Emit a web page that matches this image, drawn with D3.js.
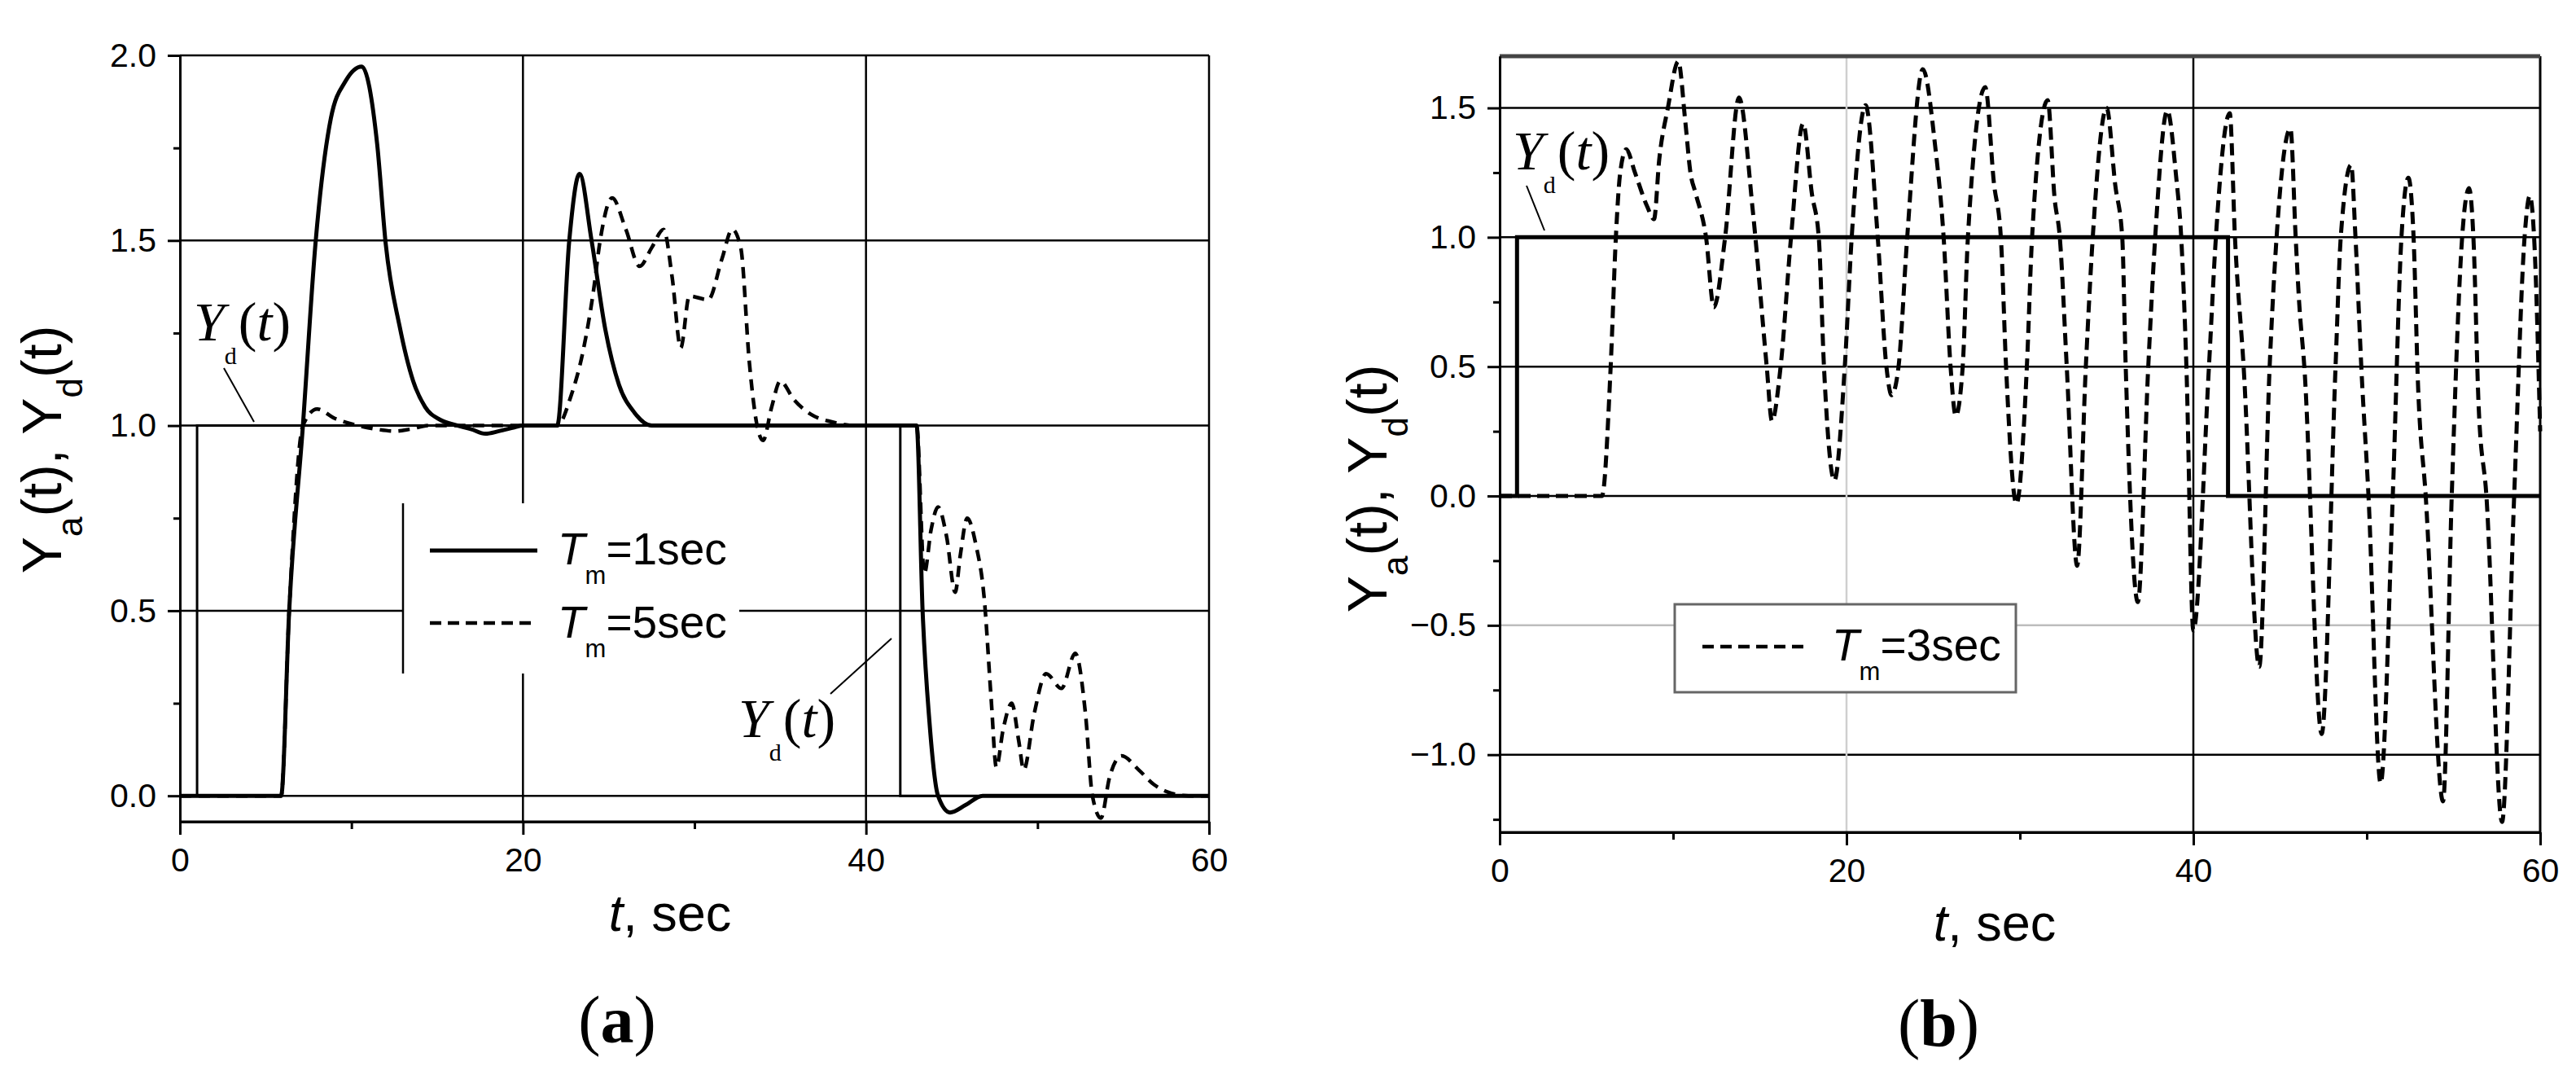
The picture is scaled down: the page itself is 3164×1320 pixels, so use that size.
<!DOCTYPE html>
<html>
<head>
<meta charset="utf-8">
<script src="https://cdn.jsdelivr.net/npm/d3@7"></script>
<style>
  body { margin: 0; background: #fff; }
  text { font-family: "Liberation Sans", Arial, sans-serif; fill: #000; }
  .serif { font-family: "Liberation Serif", "Times New Roman", serif; }
</style>
</head>
<body>
<div id="chart"></div>
<script>
// ---- data (t in sec) ----
const xTicks = [0, 20, 40, 60];
const xMinor = [10, 30, 50];
const yTicksA = [0, 0.5, 1.0, 1.5, 2.0];
const yMinorA = [0.25, 0.75, 1.25, 1.75];
const yTicksB = [-1.0, -0.5, 0.0, 0.5, 1.0, 1.5];
const yMinorB = [-1.25, -0.75, -0.25, 0.25, 0.75, 1.25];

// desired output (step), panel a
const ydA = [[0,0],[1,0],[1,1],[42,1],[42,0],[60,0]];
// actuator output, Tm = 1 sec
const yaTm1 = [[0,0],[5.9,0],[6.37,0.5],[7.17,1.0],[7.9,1.49],[8.8,1.83],[9.65,1.93],[10.6,1.97],
  [11.5,1.76],[12.0,1.49],[12.8,1.27],[13.6,1.12],[14.3,1.05],[15.2,1.015],[16.2,1.0],[17.0,0.99],
  [17.8,0.978],[18.6,0.985],[19.5,0.995],[20,1.0],[22.0,1.0],[22.7,1.5],[23.3,1.68],[24.0,1.5],
  [24.8,1.26],[25.6,1.11],[26.5,1.035],[27.5,1.0],[42.95,1.0],[43.3,0.5],[43.7,0.2],[44.2,0.0],
  [44.9,-0.045],[45.8,-0.025],[46.8,0.0],[60,0]];
// actuator output, Tm = 5 sec
const yaTm5 = [[0,0],[5.9,0],[6.37,0.5],[7.17,1.0],[8.0,1.045],[9.0,1.02],[10.4,1.0],[11.5,0.99],
  [12.5,0.985],[13.4,0.99],[14.5,1.0],[22.0,1.0],[22.8,1.08],[23.5,1.2],[24.1,1.36],[24.5,1.5],
  [25.2,1.615],[26.0,1.53],[26.8,1.43],[27.5,1.48],[28.2,1.53],[28.7,1.4],[29.2,1.21],[29.7,1.35],
  [30.8,1.34],[31.6,1.45],[32.2,1.53],[32.7,1.48],[33.2,1.17],[33.65,1.0],[34.0,0.96],[34.5,1.05],
  [35.0,1.12],[35.8,1.07],[36.8,1.03],[38.0,1.01],[39.5,1.0],[42.95,1.0],[43.4,0.6],[43.8,0.72],
  [44.2,0.78],[44.7,0.7],[45.2,0.55],[45.5,0.65],[45.9,0.75],[46.4,0.68],[46.9,0.53],[47.3,0.26],
  [47.6,0.077],[48.0,0.18],[48.5,0.25],[48.9,0.15],[49.2,0.07],[49.8,0.22],[50.5,0.33],[51.4,0.29],
  [52.2,0.385],[52.8,0.22],[53.2,0.0],[53.7,-0.06],[54.2,0.05],[54.9,0.108],[55.9,0.07],[56.8,0.03],
  [57.6,0.01],[58.8,0.0],[60,0]];

// desired output (step), panel b
const ydB = [[0,0],[1,0],[1,1],[42,1],[42,0],[60,0]];
// actuator output, Tm = 3 sec
const yaTm3 = [[0,0],[5.9,0],[6.4,0.5],[6.7,1.0],[6.95,1.25],[7.3,1.34],[7.8,1.25],[8.5,1.12],
  [8.9,1.07],[9.2,1.3],[9.7,1.5],[10.3,1.68],[10.7,1.45],[11.0,1.25],[11.3,1.17],[11.9,1.0],
  [12.35,0.73],[13.0,1.0],[13.8,1.54],[14.6,1.1],[15.4,0.5],[15.7,0.29],[16.2,0.5],[16.8,1.0],
  [17.5,1.44],[18.0,1.17],[18.4,1.0],[18.7,0.5],[19.3,0.06],[19.9,0.5],[20.3,1.0],[21.1,1.51],
  [21.8,1.0],[22.3,0.5],[22.6,0.39],[23.0,0.5],[23.5,1.0],[24.4,1.65],[25.1,1.36],[25.6,1.0],
  [26.0,0.5],[26.3,0.31],[26.7,0.5],[27.0,1.0],[28.0,1.58],[28.5,1.21],[28.9,1.0],[29.2,0.5],
  [29.8,-0.03],[30.4,0.5],[30.7,1.0],[31.6,1.53],[32.0,1.15],[32.3,1.0],[32.7,0.5],[33.3,-0.27],
  [33.8,0.5],[34.2,1.0],[35.0,1.5],[35.5,1.2],[35.9,1.0],[36.1,0.5],[36.8,-0.41],[37.4,0.5],
  [37.8,1.0],[38.5,1.49],[39.0,1.24],[39.3,1.0],[39.6,0.5],[40.0,-0.52],[40.9,0.5],[41.3,1.0],
  [42.1,1.48],[42.4,1.0],[42.9,0.5],[43.8,-0.66],[44.4,0.5],[44.8,1.0],[45.6,1.42],[45.9,1.0],
  [46.1,0.75],[46.4,0.5],[47.4,-0.92],[48.2,0.5],[48.5,1.0],[49.1,1.28],[49.35,1.0],[49.7,0.48],
  [50.1,0.0],[50.8,-1.11],[51.5,0.0],[52.0,1.0],[52.4,1.23],[52.7,1.0],[52.95,0.44],[53.4,0.0],
  [54.4,-1.18],[54.9,0.0],[55.5,1.0],[55.9,1.19],[56.15,1.0],[56.45,0.35],[56.9,0.0],[57.8,-1.26],
  [58.5,0.0],[59.1,1.0],[59.4,1.16],[59.65,1.0],[60,0.25]];

const W = 3164, H = 1320;
const svg = d3.select("#chart").append("svg")
  .attr("width", W).attr("height", H)
  .style("background", "#fff");

// panel a scales
const xA = d3.scaleLinear().domain([0, 60]).range([221, 1485]);
const yA = d3.scaleLinear().domain([-0.07, 2.0]).range([1009, 68]);
// panel b scales
const xB = d3.scaleLinear().domain([0, 60]).range([1842, 3120]);
const yB = d3.scaleLinear().domain([-1.3, 1.7]).range([1022, 69]);

function hline(g, x1, x2, y, col, w) {
  g.append("line").attr("x1", x1).attr("x2", x2).attr("y1", y).attr("y2", y)
    .attr("stroke", col).attr("stroke-width", w);
}
function vline(g, x, y1, y2, col, w) {
  g.append("line").attr("x1", x).attr("x2", x).attr("y1", y1).attr("y2", y2)
    .attr("stroke", col).attr("stroke-width", w);
}

function axes(g, x, y, yTicks, yMinor) {
  const fmt = d3.format(".1f");
  g.append("g").attr("transform", `translate(${x.range()[0]},0)`)
    .call(d3.axisLeft(y).tickValues(yTicks).tickFormat(fmt).tickSize(15).tickSizeOuter(0).tickPadding(14));
  g.append("g").attr("transform", `translate(${x.range()[0]},0)`)
    .call(d3.axisLeft(y).tickValues(yMinor).tickFormat("").tickSize(8).tickSizeOuter(0));
  g.append("g").attr("transform", `translate(0,${y.range()[0]})`)
    .call(d3.axisBottom(x).tickValues(xTicks).tickFormat(d3.format("d")).tickSize(16).tickSizeOuter(0).tickPadding(16));
  g.append("g").attr("transform", `translate(0,${y.range()[0]})`)
    .call(d3.axisBottom(x).tickValues(xMinor).tickFormat("").tickSize(9).tickSizeOuter(0));
  g.selectAll(".domain").attr("stroke", "#000").attr("stroke-width", 3);
  g.selectAll(".tick line").attr("stroke", "#000").attr("stroke-width", 3);
  g.selectAll(".tick text").attr("font-size", 41).attr("fill", "#000")
    .attr("font-family", "Liberation Sans, Arial, sans-serif");
}

const line = (x, y, curve) => d3.line().x(d => x(d[0])).y(d => y(d[1])).curve(curve);

// ================= panel (a) =================
const ga = svg.append("g");
// grid
yTicksA.forEach(v => hline(ga, xA(0), xA(60), yA(v), "#000", 2.5));
[20, 40, 60].forEach(v => vline(ga, xA(v), yA(2.0), yA(-0.07), "#000", 2.5));
hline(ga, xA(0), xA(60), yA(-0.07), "#000", 3);
// legend background hides the grid
ga.append("rect").attr("x", 495).attr("y", 618).attr("width", 413).attr("height", 209).attr("fill", "#fff");
vline(ga, 495, 618, 827, "#000", 2.5);
axes(ga, xA, yA, yTicksA, yMinorA);

ga.append("path").datum(ydA).attr("d", line(xA, yA, d3.curveLinear))
  .attr("fill", "none").attr("stroke", "#000").attr("stroke-width", 3);
ga.append("path").datum(yaTm5).attr("d", line(xA, yA, d3.curveMonotoneX))
  .attr("fill", "none").attr("stroke", "#000").attr("stroke-width", 4.5).attr("stroke-dasharray", "14,9");
ga.append("path").datum(yaTm1).attr("d", line(xA, yA, d3.curveMonotoneX))
  .attr("fill", "none").attr("stroke", "#000").attr("stroke-width", 5);

// legend a
hline(ga, 528, 660, 676, "#000", 5);
ga.append("line").attr("x1", 528).attr("x2", 660).attr("y1", 765).attr("y2", 765)
  .attr("stroke", "#000").attr("stroke-width", 4.5).attr("stroke-dasharray", "14,8");
[["1", 693], ["5", 783]].forEach(([n, by]) => {
  const t = ga.append("text").attr("x", 685).attr("y", by).attr("font-size", 55);
  t.append("tspan").attr("font-style", "italic").text("T");
  t.append("tspan").attr("font-size", 31).attr("dy", 24).text("m");
  t.append("tspan").attr("dy", -24).text("=" + n + "sec");
});

// ================= panel (b) =================
const gb = svg.append("g");
yTicksB.forEach(v => hline(gb, xB(0), xB(60), yB(v), v === -0.5 ? "#bdbdbd" : "#000", 2.5));
vline(gb, xB(20), yB(1.7), yB(-1.3), "#cfcfcf", 2.5);
vline(gb, xB(40), yB(1.7), yB(-1.3), "#000", 2.5);
vline(gb, xB(60), yB(1.7), yB(-1.3), "#000", 3);
hline(gb, xB(0), xB(60), yB(-1.3), "#000", 3);
hline(gb, xB(0), xB(60), yB(1.7), "#444", 5);
// legend box
gb.append("rect").attr("x", 2057).attr("y", 742).attr("width", 419).attr("height", 108)
  .attr("fill", "#fff").attr("stroke", "#666").attr("stroke-width", 3);
axes(gb, xB, yB, yTicksB, yMinorB);

gb.append("path").datum(ydB).attr("d", line(xB, yB, d3.curveLinear))
  .attr("fill", "none").attr("stroke", "#000").attr("stroke-width", 5);
gb.append("path").datum(yaTm3).attr("d", line(xB, yB, d3.curveMonotoneX))
  .attr("fill", "none").attr("stroke", "#000").attr("stroke-width", 5).attr("stroke-dasharray", "15,8");

gb.append("line").attr("x1", 2091).attr("x2", 2223).attr("y1", 794).attr("y2", 794)
  .attr("stroke", "#000").attr("stroke-width", 4.5).attr("stroke-dasharray", "14,8");
{
  const t = gb.append("text").attr("x", 2250).attr("y", 811).attr("font-size", 55);
  t.append("tspan").attr("font-style", "italic").text("T");
  t.append("tspan").attr("font-size", 31).attr("dy", 24).text("m");
  t.append("tspan").attr("dy", -24).text("=3sec");
}

// ================= titles & labels =================
function yTitle(x, y) {
  const t = svg.append("text").attr("transform", `translate(${x},${y}) rotate(-90)`)
    .attr("text-anchor", "middle").attr("font-size", 68);
  t.append("tspan").text("Y");
  t.append("tspan").attr("font-size", 44).attr("dy", 26).text("a");
  t.append("tspan").attr("dy", -26).text("(t), Y");
  t.append("tspan").attr("font-size", 44).attr("dy", 26).text("d");
  t.append("tspan").attr("dy", -26).text("(t)");
}
yTitle(75, 552);
yTitle(1703, 600);

function xTitle(cx, by) {
  const t = svg.append("text").attr("x", cx).attr("y", by).attr("text-anchor", "middle").attr("font-size", 63);
  t.append("tspan").attr("font-style", "italic").text("t");
  t.append("tspan").text(", sec");
}
xTitle(823, 1143);
xTitle(2450, 1155);

function panelTag(cx, by, s) {
  const t = svg.append("text").attr("class", "serif").attr("x", cx).attr("y", by)
    .attr("text-anchor", "middle").attr("font-size", 82);
  t.append("tspan").text("(");
  t.append("tspan").attr("font-weight", "bold").text(s);
  t.append("tspan").text(")");
}
panelTag(758, 1280, "a");
panelTag(2381, 1284, "b");

// Y_d(t) annotations with leader lines
function ydLabel(x, by, lx1, ly1, lx2, ly2) {
  const t = svg.append("text").attr("class", "serif").attr("x", x).attr("y", by).attr("font-size", 68);
  t.append("tspan").attr("font-style", "italic").text("Y");
  t.append("tspan").attr("font-size", 30).attr("dy", 29).text("d");
  t.append("tspan").attr("dx", 2).attr("dy", -29).text("(");
  t.append("tspan").attr("font-style", "italic").text("t");
  t.append("tspan").text(")");
  svg.append("line").attr("x1", lx1).attr("y1", ly1).attr("x2", lx2).attr("y2", ly2)
    .attr("stroke", "#000").attr("stroke-width", 2);
}
ydLabel(238, 418, 275, 452, 312, 518);
ydLabel(907, 905, 1020, 852, 1095, 784);
ydLabel(1858, 208, 1875, 228, 1897, 283);
</script>
</body>
</html>
